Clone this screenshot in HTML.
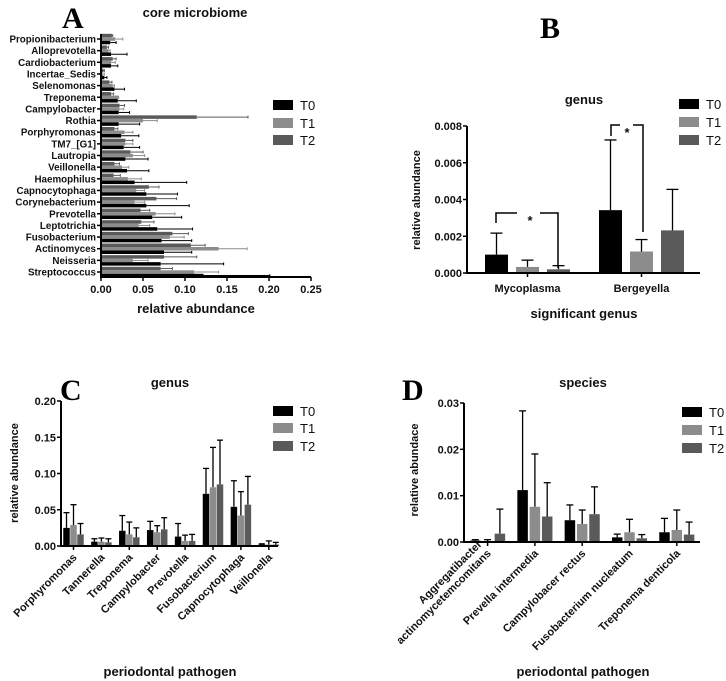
<!DOCTYPE html>
<html><head><meta charset="utf-8"><style>
html,body{margin:0;padding:0;background:#fff;}
svg{display:block;font-family:"Liberation Sans",sans-serif;}
.t{font-weight:bold;font-size:11px;fill:#111;}
.ta{font-weight:bold;font-size:9.8px;fill:#111;}
.ti{font-weight:bold;font-size:13px;fill:#111;}
.lg{font-size:13px;fill:#111;}
.big{font-family:"Liberation Serif",serif;font-weight:bold;font-size:30px;fill:#000;}
</style></head><body>
<svg id="fig" width="726" height="681" viewBox="0 0 726 681" xmlns="http://www.w3.org/2000/svg"></svg>
<script>
const COLORS=['#000000','#8c8c8c','#5a5a5a'];
const seriesNames=['T0','T1','T2'];
// Panel A
const aCats=['Propionibacterium','Alloprevotella','Cardiobacterium','Incertae_Sedis','Selenomonas','Treponema','Campylobacter','Rothia','Porphyromonas','TM7_[G1]','Lautropia','Veillonella','Haemophilus','Capnocytophaga','Corynebacterium','Prevotella','Leptotrichia','Fusobacterium','Actinomyces','Neisseria','Streptococcus'];
const aT0=[0.011,0.012,0.012,0.004,0.016,0.020,0.021,0.021,0.024,0.027,0.029,0.031,0.040,0.054,0.054,0.061,0.067,0.072,0.075,0.071,0.122];
const aT0err=[0.018,0.031,0.020,0.007,0.028,0.042,0.034,0.046,0.045,0.046,0.056,0.057,0.102,0.091,0.105,0.096,0.109,0.108,0.108,0.146,0.201];
const aT1=[0.017,0.009,0.012,0.002,0.014,0.021,0.022,0.050,0.028,0.029,0.038,0.025,0.032,0.042,0.040,0.065,0.045,0.082,0.140,0.038,0.111];
const aT1err=[0.026,0.011,0.017,0.004,0.016,0.021,0.027,0.067,0.038,0.038,0.052,0.033,0.048,0.052,0.052,0.088,0.058,0.099,0.174,0.056,0.140];
const aT2=[0.013,0.007,0.014,0.003,0.010,0.012,0.022,0.114,0.016,0.029,0.035,0.016,0.015,0.057,0.066,0.047,0.048,0.085,0.107,0.075,0.071];
const aT2err=[0.014,0.009,0.018,0.004,0.013,0.015,0.028,0.175,0.020,0.038,0.050,0.022,0.023,0.069,0.090,0.058,0.063,0.104,0.124,0.114,0.085];
const aTicks=[0,0.05,0.10,0.15,0.20,0.25];
const aTickLabels=['0.00','0.05','0.10','0.15','0.20','0.25'];
// Panel B
const bCats=['Mycoplasma','Bergeyella'];
const bT0=[0.00100,0.00342];const bT0err=[0.00217,0.00724];
const bT1=[0.00033,0.00117];const bT1err=[0.00070,0.00182];
const bT2=[0.00020,0.00232];const bT2err=[0.00040,0.00455];
const bTicks=[0,0.002,0.004,0.006,0.008];
const bTickLabels=['0.000','0.002','0.004','0.006','0.008'];
// Panel C
const cCats=['Porphyromonas','Tannerella','Treponema','Campylobacter','Prevotella','Fusobacterium','Capnocytophaga','Veillonella'];
const cT0=[0.025,0.006,0.021,0.022,0.013,0.072,0.054,0.002];const cT0err=[0.046,0.010,0.042,0.034,0.031,0.107,0.090,0.003];
const cT1=[0.029,0.006,0.016,0.019,0.007,0.081,0.042,0.002];const cT1err=[0.057,0.011,0.033,0.028,0.015,0.136,0.075,0.007];
const cT2=[0.016,0.005,0.012,0.023,0.007,0.085,0.057,0.002];const cT2err=[0.031,0.010,0.025,0.039,0.016,0.146,0.096,0.005];
const cTicks=[0,0.05,0.10,0.15,0.20];
const cTickLabels=['0.00','0.05','0.10','0.15','0.20'];
// Panel D
const dCats=[['Aggregatibacter','actinomycetemcomitans'],['Prevella intermedia'],['Campylobacer rectus'],['Fusobacterium nucleatum'],['Treponema denticola']];
const dT0=[0.0003,0.0112,0.0047,0.0010,0.0021];const dT0err=[0.0005,0.0283,0.0080,0.0017,0.0051];
const dT1=[0.0002,0.0076,0.0039,0.0021,0.0026];const dT1err=[0.0005,0.0190,0.0069,0.0049,0.0069];
const dT2=[0.0018,0.0055,0.0060,0.0008,0.0016];const dT2err=[0.0071,0.0128,0.0119,0.0016,0.0043];
const dTicks=[0,0.01,0.02,0.03];
const dTickLabels=['0.00','0.01','0.02','0.03'];

const NS='http://www.w3.org/2000/svg';
const svg=document.getElementById('fig');
function mk(tag,attrs,parent){const e=document.createElementNS(NS,tag);for(const k in attrs)e.setAttribute(k,attrs[k]);(parent||svg).appendChild(e);return e;}
function txt(s,x,y,cls,name,extra){const e=mk('text',Object.assign({x:x,y:y,class:cls},extra||{}));e.textContent=s;


return e;}
function line(x1,y1,x2,y2,name,col,w){const e=mk('line',{x1:x1,y1:y1,x2:x2,y2:y2,stroke:col||'#000','stroke-width':w||1.5});


return e;}
function rect(x,y,w,h,fill,name){const e=mk('rect',{x:x,y:y,width:w,height:h,fill:fill});


return e;}
function legend(x,ys,tx){for(let i=0;i<3;i++){rect(x,ys[i]-5,20,10,COLORS[i],'legend-swatch-'+seriesNames[i].toLowerCase());
txt(seriesNames[i],tx,ys[i]+5,'lg','legend-label-'+seriesNames[i].toLowerCase());}}

// ===== Panel A =====
txt('A',62,28,'big','panel-label-a');
txt('core microbiome',195,17,'ti','chart-title-a',{'text-anchor':'middle'});
const ax0=101,ax1=311,aY0=34,aY1=277;
const aX=v=>ax0+v/0.25*(ax1-ax0);
const aYc=i=>39+i*(272-39)/(aCats.length-1);
const aVals=[aT0,aT1,aT2],aErr=[aT0err,aT1err,aT2err];
aCats.forEach((c,i)=>{const yc=aYc(i);
 const offs=[1.8,-1.7,-5.2];
 for(let s=2;s>=0;s--){const y=yc+offs[s];
  rect(ax0,y,aX(aVals[s][i])-ax0,3.5,COLORS[s],'bar-a-'+c.toLowerCase()+'-'+seriesNames[s].toLowerCase());
  line(aX(aVals[s][i]),y+1.75,aX(aErr[s][i]),y+1.75,'error-bar-a',COLORS[s],1);
  line(aX(aErr[s][i]),y+0.3,aX(aErr[s][i]),y+3.2,'error-cap-a',COLORS[s],1);}
 line(ax0-4,yc,ax0,yc,'y-tick-a');
 txt(c,ax0-5,yc+3.5,'ta','y-tick-label-a',{'text-anchor':'end'});
});
line(ax0,aY0,ax0,aY1+1,'y-axis-a',null,2);
line(ax0,aY1,ax1,aY1,'x-axis-a',null,2);
aTicks.forEach((t,i)=>{line(aX(t),aY1,aX(t),aY1+4,'x-tick-a');
 txt(aTickLabels[i],aX(t),aY1+16,'t','x-tick-label-a',{'text-anchor':'middle'});});
txt('relative abundance',196,313,'ti','x-axis-title-a',{'text-anchor':'middle'});
legend(273,[105,123,140],300);

// grouped vertical chart helper
function vchart(p){
 const Y=v=>p.y0-v/p.vmax*(p.y0-p.y1);
 const vals=[p.t0,p.t1,p.t2],errs=[p.e0,p.e1,p.e2];
 p.cats.forEach((c,i)=>{for(let s=0;s<3;s++){
  const cx=p.first+i*p.gstep+s*p.bstep;
  const nm=(Array.isArray(c)?c[0]:c).toLowerCase().replace(/ /g,'-');
  line(cx,Y(vals[s][i]),cx,Y(errs[s][i]),'error-bar-'+p.id,'#000',1.3);
  line(cx-p.cap,Y(errs[s][i]),cx+p.cap,Y(errs[s][i]),'error-cap-'+p.id,'#000',1.3);
  rect(cx-p.bw/2,Y(vals[s][i]),p.bw,p.y0-Y(vals[s][i]),COLORS[s],'bar-'+p.id+'-'+nm+'-'+seriesNames[s].toLowerCase());}
  const mx=p.first+i*p.gstep+p.bstep;
  line(mx,p.y0,mx,p.y0+4,'x-tick-'+p.id);
  if(p.rot){const lines=Array.isArray(c)?c:[c];
   lines.forEach((l,k)=>{const off=(k-(lines.length-1))*13;
    txt(l,mx+4+off*0.7,p.y0+12+off*0.7,'t','x-tick-label-'+p.id,{'text-anchor':'end',transform:'rotate(-45 '+(mx+4+off*0.7)+' '+(p.y0+12+off*0.7)+')'});});}
  else txt(c,mx,p.y0+19,'t','x-tick-label-'+p.id,{'text-anchor':'middle'});
 });
 line(p.x0,p.y1,p.x0,p.y0+1,'y-axis-'+p.id,null,2);
 line(p.x0,p.y0,p.x1,p.y0,'x-axis-'+p.id,null,2);
 p.ticks.forEach((t,i)=>{line(p.x0-4,Y(t),p.x0,Y(t),'y-tick-'+p.id);
  txt(p.tl[i],p.x0-5,Y(t)+4,'t','y-tick-label-'+p.id,{'text-anchor':'end'});});
 return Y;
}

// ===== Panel B =====
txt('B',540,38,'big','panel-label-b');
txt('genus',584,104,'ti','chart-title-b',{'text-anchor':'middle'});
const bY=vchart({id:'b',cats:bCats,t0:bT0,t1:bT1,t2:bT2,e0:bT0err,e1:bT1err,e2:bT2err,vmax:0.008,ticks:bTicks,tl:bTickLabels,
 x0:467,x1:700,y0:273,y1:126,first:496.5,gstep:114,bstep:31,bw:23,cap:6});
txt('relative abundance',420,200,'t','y-axis-title-b',{'text-anchor':'middle',transform:'rotate(-90 420 200)'});
txt('significant genus',584,318,'ti','x-axis-title-b',{'text-anchor':'middle'});
legend(679,[104,122,140],706);
const br1=mk('polyline',{points:'496,223 496,213 517,213',fill:'none',stroke:'#000','stroke-width':1.5});


const br1b=mk('polyline',{points:'540,213 558,213 558,268',fill:'none',stroke:'#000','stroke-width':1.5});


txt('*',530,225,'ti','significance-star-mycoplasma',{'text-anchor':'middle','font-size':'18px'});
const br2=mk('polyline',{points:'611,136 611,125 620,125',fill:'none',stroke:'#000','stroke-width':1.5});


const br2b=mk('polyline',{points:'633,125 643,125 643,232',fill:'none',stroke:'#000','stroke-width':1.5});


txt('*',627,137,'ti','significance-star-bergeyella',{'text-anchor':'middle','font-size':'18px'});

// ===== Panel C =====
txt('C',60,400,'big','panel-label-c');
txt('genus',170,387,'ti','chart-title-c',{'text-anchor':'middle'});
vchart({id:'c',cats:cCats,t0:cT0,t1:cT1,t2:cT2,e0:cT0err,e1:cT1err,e2:cT2err,vmax:0.20,ticks:cTicks,tl:cTickLabels,
 x0:61,x1:278,y0:546,y1:401,first:66.5,gstep:27.9,bstep:7,bw:6.5,cap:3,rot:true});
txt('relative abundance',18,473,'t','y-axis-title-c',{'text-anchor':'middle',transform:'rotate(-90 18 473)'});
txt('periodontal pathogen',170,676,'ti','x-axis-title-c',{'text-anchor':'middle'});
legend(273,[411,428,446],300);

// ===== Panel D =====
txt('D',402,400,'big','panel-label-d');
txt('species',583,387,'ti','chart-title-d',{'text-anchor':'middle'});
vchart({id:'d',cats:dCats,t0:dT0,t1:dT1,t2:dT2,e0:dT0err,e1:dT1err,e2:dT2err,vmax:0.03,ticks:dTicks,tl:dTickLabels,
 x0:464,x1:700,y0:542,y1:403,first:475.3,gstep:47.3,bstep:12.3,bw:10.5,cap:3.5,rot:true});
txt('relative abundace',418,470,'t','y-axis-title-d',{'text-anchor':'middle',transform:'rotate(-90 418 470)'});
txt('periodontal pathogen',583,676,'ti','x-axis-title-d',{'text-anchor':'middle'});
legend(682,[412,430,448],709);
</script>
</body></html>
